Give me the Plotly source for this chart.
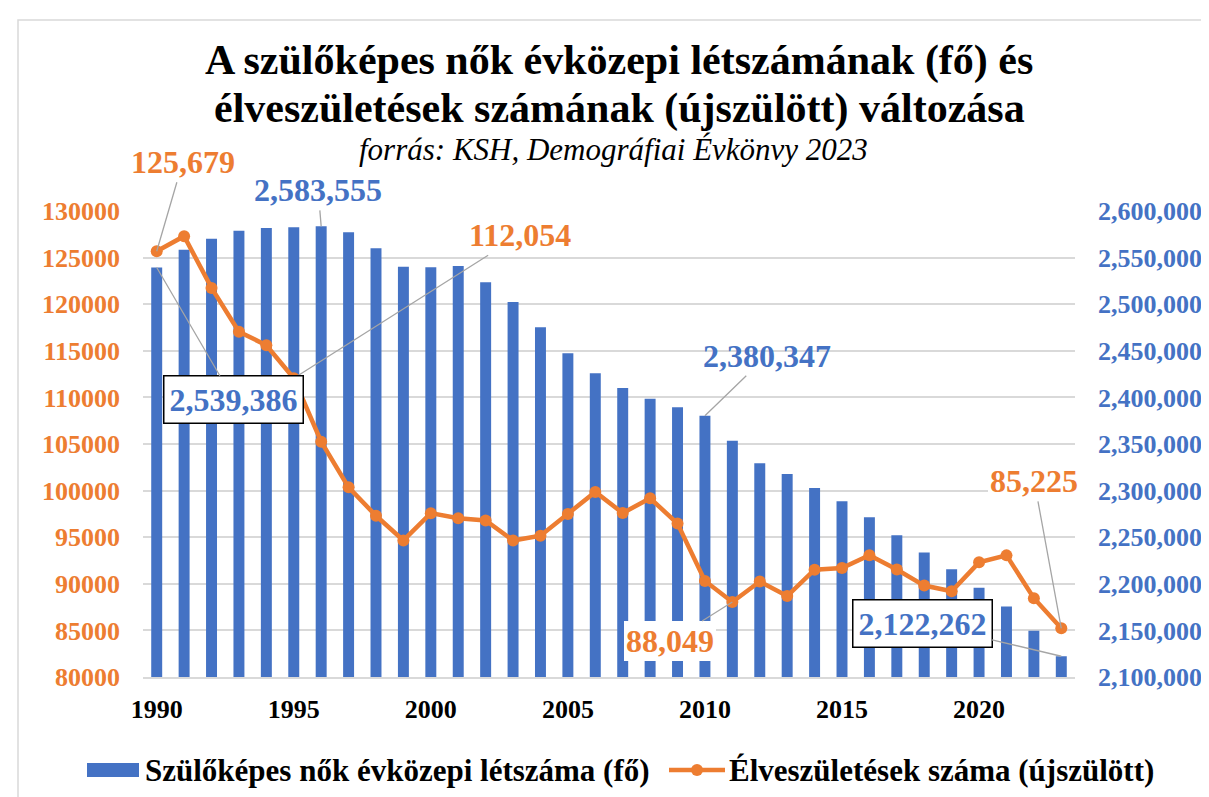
import plotly.graph_objects as go

years = list(range(1990, 2024))
women = [2539386, 2558500, 2570300, 2578900, 2581800, 2582500, 2583555, 2577100,
         2560000, 2540300, 2539600, 2541000, 2523500, 2502400, 2475200, 2447400,
         2425800, 2410000, 2398600, 2389300, 2380347, 2353600, 2329300, 2317900,
         2302900, 2288600, 2271400, 2252100, 2233600, 2215700, 2195700, 2175700,
         2149600, 2122262]
births = [125679, 127300, 121750, 117050, 115600, 112054, 105250, 100350,
          97300, 94650, 97580, 97040, 96790, 94640, 95160, 97500,
          99860, 97590, 99180, 96470, 90310, 88049, 90240, 88680,
          91510, 91700, 93070, 91540, 89810, 89200, 92300, 93050,
          88460, 85225]
xticks = [1990, 1995, 2000, 2005, 2010, 2015, 2020]
name_women = "Szülőképes nők évközepi létszáma (fő)"
name_births = "Élveszületések száma (újszülött)"

BLUE = "#4472C4"
ORANGE = "#ED7D31"
GRID = "#D9D9D9"
LEAD = "#A5A5A5"
FONT = "Liberation Serif"

W, H = 1209, 797
L, R, T, B = 135, 142, 203, 128
PW, PH = W - L - R, H - T - B

def px_to_paper(px, py):
    return (px - L) / PW, (H - B - py) / PH

fig = go.Figure()
fig.add_trace(go.Bar(
    x=years, y=women, name=name_women,
    marker=dict(color=BLUE, line=dict(width=0)), width=0.4, yaxis="y",
    showlegend=False,
))
fig.add_trace(go.Scatter(
    x=years, y=births, name=name_births,
    mode="lines+markers", line=dict(color=ORANGE, width=4.5),
    marker=dict(color=ORANGE, size=12), yaxis="y2",
    showlegend=False,
))

def label(idx, series, yref, color, ax, ay, box=False, bg=False):
    v = series[idx]
    return dict(
        x=years[idx], y=v, xref="x", yref=yref, text=f"{v:,}",
        showarrow=True, arrowhead=0, arrowwidth=1.3, arrowcolor=LEAD,
        standoff=0, startstandoff=0, ax=ax, ay=ay,
        font=dict(family=FONT, size=32, color=color, weight="bold"),
        bgcolor="white" if (box or bg) else None,
        bordercolor="black" if box else None,
        borderwidth=1.5 if box else 0, borderpad=5 if box else 2,
    )

annotations = [
    label(0, births, "y2", ORANGE, 26, -89),
    label(5, births, "y2", ORANGE, 226, -143, bg=True),
    label(21, births, "y2", ORANGE, -62, 39, bg=True),
    label(33, births, "y2", ORANGE, -27, -147, bg=True),
    label(6, women, "y", BLUE, -3, -36),
    label(0, women, "y", BLUE, 77, 132, box=True),
    label(20, women, "y", BLUE, 62, -60),
    label(33, women, "y", BLUE, -139, -33, box=True),
]

for text, cx, cy, size, bold, italic in [
    ("A szülőképes nők évközepi létszámának (fő) és", 611, 53, 42, True, False),
    ("élveszületések számának (újszülött) változása", 611, 100, 42, True, False),
    ("forrás: KSH, Demográfiai Évkönvy 2023", 605, 141, 31, False, True),
]:
    xp, yp = px_to_paper(cx, cy)
    annotations.append(dict(
        x=xp, y=yp, xref="paper", yref="paper", text=text, showarrow=False,
        xanchor="center", yanchor="middle",
        font=dict(family=FONT, size=size, color="black",
                  weight="bold" if bold else "normal",
                  style="italic" if italic else "normal"),
    ))

# custom legend
LEG_Y = 762
for text, tx in [(name_women, 135), (name_births, 719)]:
    xp, yp = px_to_paper(tx, LEG_Y)
    annotations.append(dict(
        x=xp, y=yp, xref="paper", yref="paper", text=text, showarrow=False,
        xanchor="left", yanchor="middle",
        font=dict(family=FONT, size=31, color="black", weight="bold"),
    ))

shapes = []
x0, y0 = px_to_paper(10, 790)
x1, y1 = px_to_paper(1201, 12)
shapes.append(dict(type="rect", xref="paper", yref="paper", x0=x0, y0=y0, x1=x1, y1=y1,
                   line=dict(color=GRID, width=1.5), fillcolor="rgba(0,0,0,0)", layer="below"))
bx0, by0 = px_to_paper(79, 769)
bx1, by1 = px_to_paper(131, 755)
shapes.append(dict(type="rect", xref="paper", yref="paper", x0=bx0, y0=by0, x1=bx1, y1=by1,
                   line=dict(width=0), fillcolor=BLUE))
lx0, ly = px_to_paper(661, LEG_Y)
lx1, _ = px_to_paper(717, LEG_Y)
shapes.append(dict(type="line", xref="paper", yref="paper", x0=lx0, y0=ly, x1=lx1, y1=ly,
                   line=dict(color=ORANGE, width=4.5)))
cx0, cy0 = px_to_paper(683, LEG_Y + 6)
cx1, cy1 = px_to_paper(695, LEG_Y - 6)
shapes.append(dict(type="circle", xref="paper", yref="paper", x0=cx0, y0=cy0, x1=cx1, y1=cy1,
                   line=dict(width=0), fillcolor=ORANGE))

fig.update_layout(
    width=W, height=H,
    margin=dict(l=L, r=R, t=T, b=B, autoexpand=False),
    paper_bgcolor="white", plot_bgcolor="white",
    font=dict(family=FONT),
    showlegend=False,
    xaxis=dict(range=[1989.5, 2023.5], tickvals=xticks, showgrid=False,
               showline=True, linecolor=GRID, linewidth=1.5, ticks="",
               tickfont=dict(family=FONT, size=26, color="black", weight="bold"),
               ticklabelstandoff=8, zeroline=False),
    yaxis=dict(range=[2100000, 2600000], dtick=50000, tickformat=",d", side="right",
               showgrid=True, gridcolor=GRID, gridwidth=1.5, zeroline=False, ticks="",
               tickfont=dict(family=FONT, size=26, color=BLUE, weight="bold"),
               ticklabelstandoff=22, showline=False),
    yaxis2=dict(range=[80000, 130000], dtick=5000, tickformat="d", side="left",
                overlaying="y", showgrid=False, zeroline=False, ticks="",
                tickfont=dict(family=FONT, size=26, color=ORANGE, weight="bold"),
                ticklabelstandoff=22, showline=False),
    annotations=annotations,
    shapes=shapes,
)

fig.write_html("out.html")
